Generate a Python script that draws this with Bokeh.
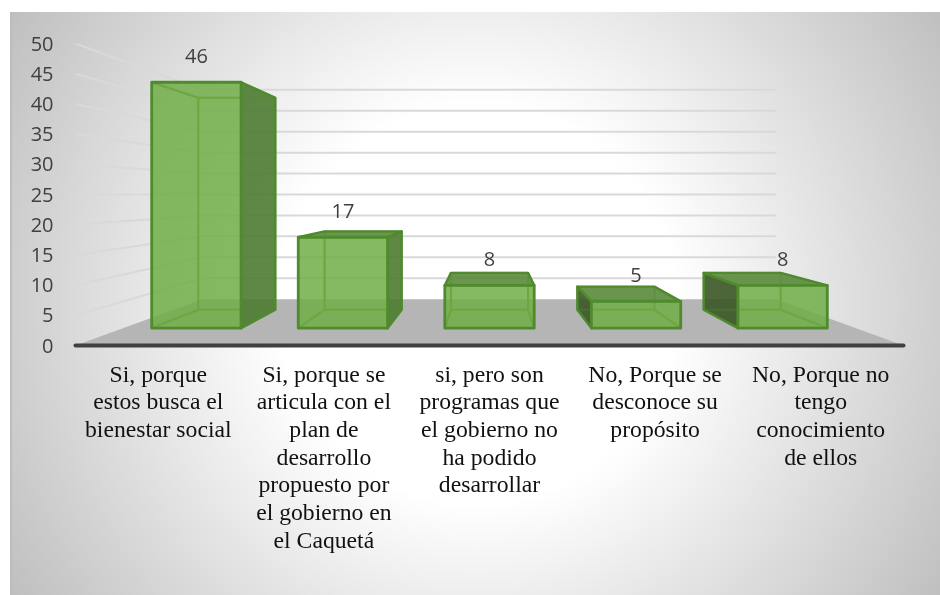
from bokeh.embed import file_html
from bokeh.resources import INLINE
from bokeh.plotting import figure
from bokeh.models import Range1d, FixedTicker
from bokeh.core.properties import value

categories = [
    "Si, porque\nestos busca el\nbienestar social",
    "Si, porque se\narticula con el\nplan de\ndesarrollo\npropuesto por\nel gobierno en\nel Caquetá",
    "si, pero son\nprogramas que\nel gobierno no\nha podido\ndesarrollar",
    "No, Porque se\ndesconoce su\npropósito",
    "No, Porque no\ntengo\nconocimiento\nde ellos",
]
values = [46, 17, 8, 5, 8]
y_ticks = [0, 5, 10, 15, 20, 25, 30, 35, 40, 45, 50]

# perspective of the 3-D scene, in axis units
VX, VY = 2.5, 25.0           # vanishing point
S_WALL, S_FRONT, S_BACK = 0.693, 0.885, 0.763
BAR_W = 0.61

GREEN = "#70AD47"
EDGE = "#4f8a2d"
EDGE_IN = "#6ca83f"


def proj(x, v, s):
    return VX + (x - VX) * s, VY + (v - VY) * s


p = figure(width=924, height=579, output_backend="svg", toolbar_location=None,
           x_range=Range1d(0, 5), y_range=Range1d(0, 50),
           min_border_left=75, min_border_right=21, min_border_top=43, min_border_bottom=234,
           border_fill_color=None, background_fill_color=None, outline_line_color=None,
           stylesheets=[""":host::before{content:'';position:fixed;left:10px;top:12px;right:0;bottom:0;z-index:-1;
           box-sizing:border-box;border-left:2px solid #bdbdbd;
           background:radial-gradient(circle 550px at 465px 292px,#ffffff 36%,#bfbfbf 100%);}"""])
p.grid.visible = False

# walls
gx, gy = [], []
for t in y_ticks[1:]:
    x0, y0 = proj(0, t, 1)
    x1, y1 = proj(0, t, S_WALL)
    x2, y2 = proj(5, t, S_WALL)
    gx.append([x0, x1, x2])
    gy.append([y0, y1, y2])
p.multi_line(gx, gy, line_color="#d9d9d9", line_width=2)

# floor
fl = [proj(0, 0, 1), proj(5, 0, 1), proj(5, 0, S_WALL), proj(0, 0, S_WALL)]
p.patch([a[0] for a in fl], [a[1] for a in fl], fill_color="#b5b5b5", line_color=None)


def clip(a, b, r):
    t0, t1 = 0.0, 1.0
    dx, dy = b[0] - a[0], b[1] - a[1]
    for q, d in ((a[0] - r[0], -dx), (r[1] - a[0], dx), (a[1] - r[2], -dy), (r[3] - a[1], dy)):
        if d == 0:
            if q < 0:
                return None
            continue
        t = q / d
        if d < 0:
            t0 = max(t0, t)
        else:
            t1 = min(t1, t)
    if t0 >= t1:
        return None
    return (a[0] + t0 * dx, a[1] + t0 * dy), (a[0] + t1 * dx, a[1] + t1 * dy)


for i, v in enumerate(values):
    xl, xr = i + 0.5 - BAR_W / 2, i + 0.5 + BAR_W / 2
    F = [proj(xl, 0, S_FRONT), proj(xr, 0, S_FRONT), proj(xr, v, S_FRONT), proj(xl, v, S_FRONT)]
    B = [proj(xl, 0, S_BACK), proj(xr, 0, S_BACK), proj(xr, v, S_BACK), proj(xl, v, S_BACK)]
    rect = (F[0][0], F[1][0], F[0][1], F[2][1])
    faces = []
    if B[1][0] > F[1][0]:
        faces.append(([F[1], B[1], B[2], F[2]], "#4e7a31"))
    if B[0][0] < F[0][0]:
        faces.append(([F[0], B[0], B[3], F[3]], "#3a5626"))
    if B[2][1] > F[2][1]:
        faces.append(([F[3], F[2], B[2], B[3]], "#5a8a3c"))
    for pts, col in faces:
        p.patch([a[0] for a in pts], [a[1] for a in pts], fill_color=col, fill_alpha=0.9,
                line_color=EDGE, line_width=2.4, line_join="round")
    segs = [(B[k], B[(k + 1) % 4]) for k in range(4)] + [(F[k], B[k]) for k in range(4)]
    p.multi_line([[s[0][0], s[1][0]] for s in segs], [[s[0][1], s[1][1]] for s in segs],
                 line_color=EDGE, line_width=2, line_alpha=0.35)
    p.patch([a[0] for a in F], [a[1] for a in F], fill_color=GREEN, fill_alpha=0.85, line_color=None)
    inner = [c for c in (clip(s[0], s[1], rect) for s in segs) if c]
    p.multi_line([[c[0][0], c[1][0]] for c in inner], [[c[0][1], c[1][1]] for c in inner],
                 line_color=EDGE_IN, line_width=2)
    p.patch([a[0] for a in F], [a[1] for a in F], fill_color=None, line_color=EDGE,
            line_width=2.8, line_join="round")

# data labels
lx = [proj(i + 0.5, v, S_FRONT)[0] for i, v in enumerate(values)]
ly = [proj(i + 0.5, v, S_FRONT)[1] for i, v in enumerate(values)]
p.text(lx, ly, text=[str(v) for v in values], y_offset=-26, text_align="center",
       text_baseline="middle", text_color="#404040", text_font=value("Open Sans"),
       text_font_size="20px")

# axes
p.yaxis.ticker = FixedTicker(ticks=y_ticks)
p.yaxis.axis_line_color = None
p.yaxis.major_tick_line_color = None
p.yaxis.minor_tick_line_color = None
p.yaxis.major_label_standoff = 16
p.yaxis.major_label_text_font = "Open Sans"
p.yaxis.major_label_text_font_size = "20px"
p.yaxis.major_label_text_color = "#404040"

p.xaxis.ticker = FixedTicker(ticks=[i + 0.5 for i in range(len(categories))])
p.xaxis.major_label_overrides = {i + 0.5: c for i, c in enumerate(categories)}
p.xaxis.axis_line_color = "#404040"
p.xaxis.axis_line_width = 4
p.xaxis.axis_line_cap = "round"
p.xaxis.major_tick_line_color = None
p.xaxis.minor_tick_line_color = None
p.xaxis.major_label_standoff = 9
p.xaxis.major_label_orientation = "horizontal"
p.xaxis.major_label_text_font = "Liberation Serif"
p.xaxis.major_label_text_font_size = "23.7px"
p.xaxis.major_label_text_color = "#111111"
p.xaxis.major_label_text_line_height = 1.065

open("out.html", "w").write(file_html(p, INLINE))
